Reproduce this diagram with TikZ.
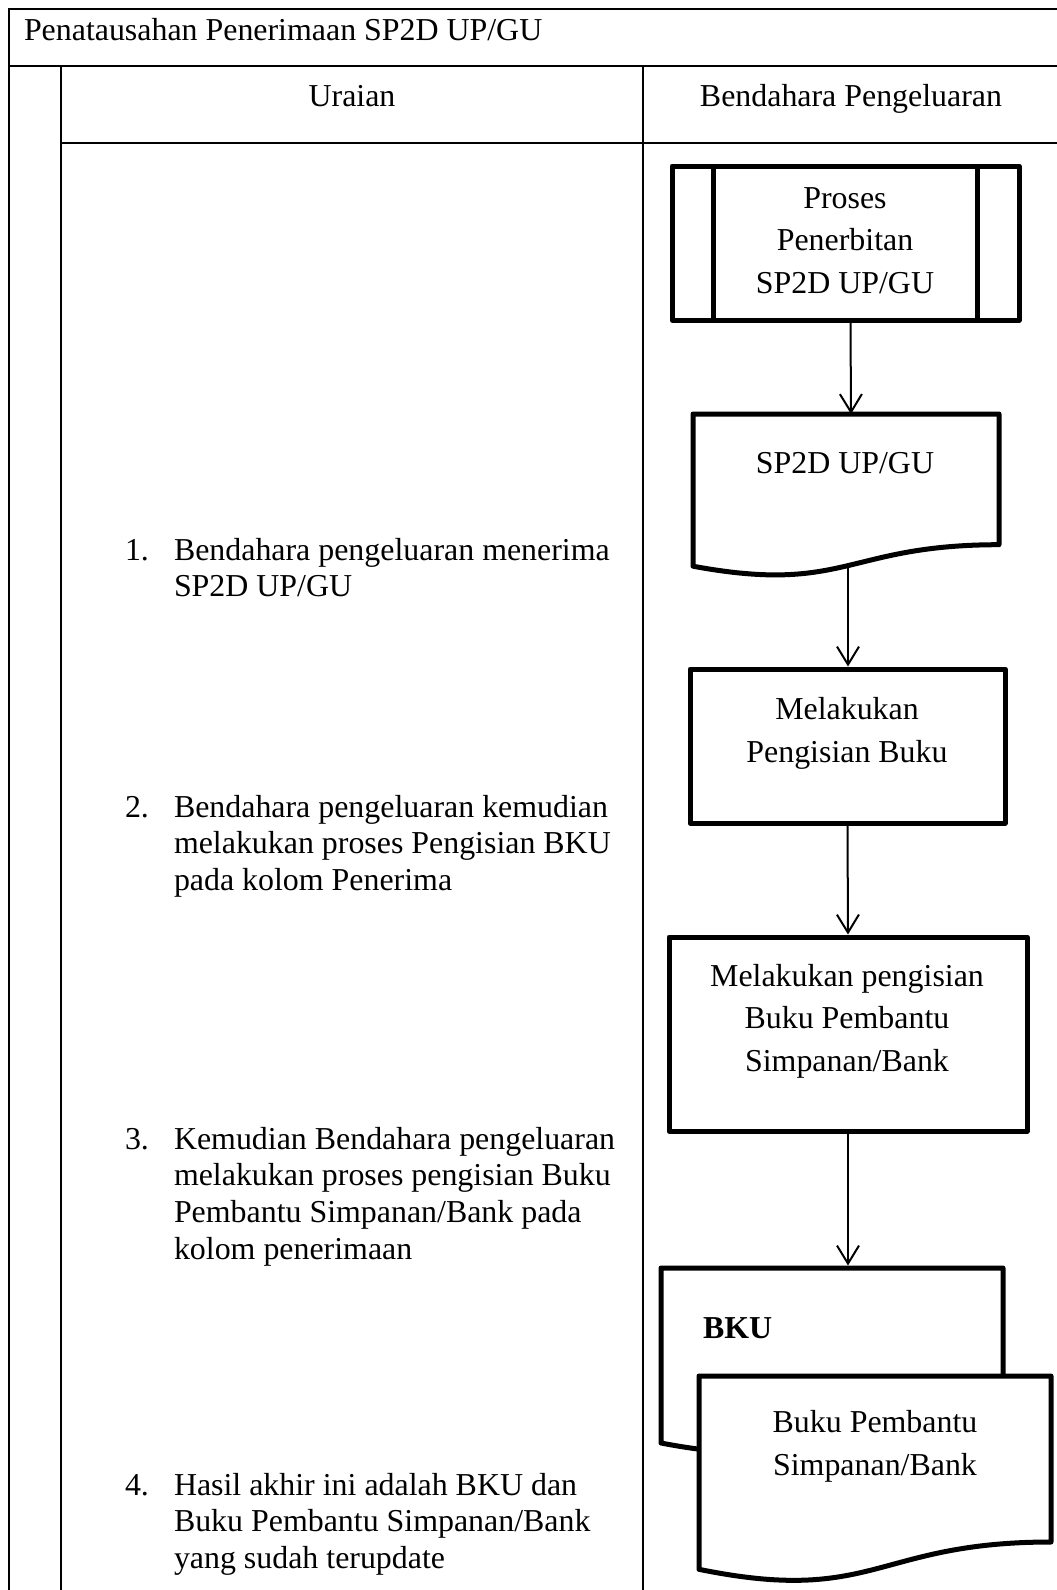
\documentclass[tikz,border=0pt]{standalone}
\usepackage{fontspec}
\setmainfont{Liberation Serif}
\usetikzlibrary{arrows.meta,calc}
\begin{document}
\begin{tikzpicture}[x=1pt,y=-1pt,
  txt/.style={font=\fontsize{31.9}{42.5}\selectfont, align=center, inner sep=0pt, outer sep=0pt},
  lst/.style={font=\fontsize{31.9}{36.8}\selectfont, align=left, anchor=base west, inner sep=0pt, outer sep=0pt},
  grid/.style={line width=2.2pt},
  shp/.style={draw, line width=5pt, line join=round},
  area/.style={inner sep=0pt, outer sep=0pt},
  flow/.style={line width=2pt, -{Straight Barb[length=18pt,width=22pt,line width=2pt]}},
]
\useasboundingbox (0,0) rectangle (1057,1590);
\clip (0,0) rectangle (1057,1590);
\fill[white] (0,0) rectangle (1057,1590);

% table frame
\draw[grid] (9,9) -- (1070,9);
\draw[grid] (9,8) -- (9,1600);
\draw[grid] (9,66) -- (1070,66);
\draw[grid] (61,66) -- (61,1600);
\draw[grid] (643,66) -- (643,1600);
\draw[grid] (61,143) -- (1070,143);

% headings
\node[txt, anchor=base west] (title) at (24,40) {Penatausahan Penerimaan SP2D UP/GU};
\node[txt, anchor=base] (hU) at (352,106) {Uraian};
\node[txt, anchor=base] (hB) at (851,106) {Bendahara Pengeluaran};

% predefined process
\node[shp, minimum width=347pt, minimum height=154pt] (p) at (845.5,243) {};
\draw[line width=5pt] ([xshift=44pt]p.north west) -- ([xshift=44pt]p.south west);
\draw[line width=5pt] ([xshift=-44pt]p.north east) -- ([xshift=-44pt]p.south east);
\node[txt, anchor=base] (pt) at (845,293) {Proses\\Penerbitan\\SP2D UP/GU};

% document SP2D
\node[area, minimum width=306pt, minimum height=130.7pt] (d1) at (846,479.35) {};
\draw[shp] (d1.north west) -- (d1.north east) -- (d1.south east)
  .. controls (d1.south) and ($(d1.south)+(0,49.8)$) .. ($(d1.south west)+(0,21.5)$) -- cycle;
\coordinate (d1w) at ($(d1.south)+(2,21.4)$);
\node[txt, anchor=base] (d1t) at (845,473) {SP2D UP/GU};

% process boxes
\node[shp, minimum width=315pt, minimum height=154pt] (b1) at (847.5,746) {};
\node[txt, anchor=base] (b1t) at (847,762) {Melakukan\\Pengisian Buku};

\node[shp, minimum width=358pt, minimum height=194pt] (b2) at (848,1034) {};
\node[txt, anchor=base] (b2t) at (847,1071) {Melakukan pengisian\\Buku Pembantu\\Simpanan/Bank};

% output documents
\node[area, minimum width=342pt, minimum height=150.3pt] (bku) at (832,1343.15) {};
\draw[shp] (bku.north west) -- (bku.north east) -- (bku.south east)
  .. controls (bku.south) and ($(bku.south)+(0,57.3)$) .. ($(bku.south west)+(0,24.7)$) -- cycle;
\node[txt, anchor=base west] (bkut) at (703,1338) {\textbf{BKU}};

\node[area, minimum width=352pt, minimum height=166pt] (d2) at (875,1459) {};
\draw[shp, fill=white] (d2.north west) -- (d2.north east) -- (d2.south east)
  .. controls (d2.south) and ($(d2.south)+(0,63.2)$) .. ($(d2.south west)+(0,27.3)$) -- cycle;
\node[txt, anchor=base] (d2t) at (875,1475) {Buku Pembantu\\Simpanan/Bank};

% flow
\draw[flow] ([xshift=5pt]p.south) -- ([xshift=5pt]d1.north);
\draw[flow] (d1w) -- (d1w |- b1.north);
\draw[flow] (b1.south) -- (b2.north);
\draw[flow] (b2.south) -- ([yshift=2.5pt]b2.south |- bku.north);

% steps (anchor base = last line)
\node[lst] (n1) at (125,560) {1.};
\node[lst] (s1) at (174,596.8) {Bendahara pengeluaran menerima\\SP2D UP/GU};
\node[lst] (n2) at (125,817) {2.};
\node[lst] (s2) at (174,890.6) {Bendahara pengeluaran kemudian\\melakukan proses Pengisian BKU\\pada kolom Penerima};
\node[lst] (n3) at (125,1149) {3.};
\node[lst] (s3) at (174,1259.4) {Kemudian Bendahara pengeluaran\\melakukan proses pengisian Buku\\Pembantu Simpanan/Bank pada\\kolom penerimaan};
\node[lst] (n4) at (125,1495) {4.};
\node[lst] (s4) at (174,1568.6) {Hasil akhir ini adalah BKU dan\\Buku Pembantu Simpanan/Bank\\yang sudah terupdate};
\end{tikzpicture}
\end{document}
